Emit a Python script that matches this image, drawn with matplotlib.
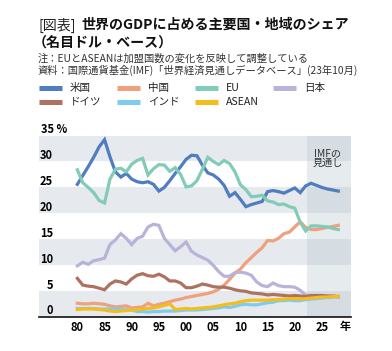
import numpy as np
import matplotlib
matplotlib.use("Agg")
import matplotlib.pyplot as plt
from matplotlib.lines import Line2D
from matplotlib.transforms import offset_copy

plt.rcParams['font.family'] = ['Noto Sans CJK JP', 'DejaVu Sans']

# Share of world nominal GDP (%), 1980-2028 (2023 onward: IMF outlook)
years = np.arange(1980, 2029)

us = [25.6, 27.3, 29.0, 30.8, 32.8, 34.2, 30.9, 28.0, 27.0, 27.7,
      26.6, 26.1, 25.9, 26.1, 25.6, 24.3, 25.0, 26.3, 27.7, 29.0,
      30.4, 31.2, 31.1, 29.3, 27.8, 27.4, 26.6, 25.4, 23.3, 24.0,
      22.7, 21.3, 21.7, 22.0, 22.3, 24.2, 24.4, 24.2, 23.9, 24.4,
      24.9, 24.0, 25.3, 25.8, 25.4, 25.0, 24.7, 24.5, 24.3]
china = [2.7, 2.6, 2.6, 2.7, 2.6, 2.5, 2.2, 2.0, 2.1, 2.2,
         1.8, 1.9, 2.0, 2.7, 2.2, 2.5, 2.7, 3.0, 3.3, 3.5,
         3.8, 4.0, 4.2, 4.4, 4.6, 4.9, 5.4, 6.2, 7.3, 8.5,
         9.3, 10.5, 11.5, 12.5, 13.4, 14.8, 14.7, 15.2, 16.1, 16.4,
         17.4, 18.4, 17.3, 16.9, 16.9, 17.1, 17.3, 17.5, 17.7]
eu = [28.4, 25.9, 25.0, 24.0, 22.5, 22.0, 26.6, 28.5, 28.7, 28.0,
      29.5, 30.2, 30.6, 27.4, 28.6, 29.4, 29.3, 28.1, 28.8, 27.5,
      25.1, 25.3, 26.3, 28.5, 30.8, 30.0, 29.4, 30.2, 29.6, 28.0,
      25.5, 24.6, 23.2, 23.3, 23.5, 22.4, 22.2, 21.7, 21.8, 21.3,
      21.0, 18.3, 16.6, 17.6, 17.6, 17.5, 17.4, 17.1, 16.9]
japan = [9.9, 10.6, 10.2, 10.9, 11.1, 11.4, 14.0, 14.9, 16.1, 15.2,
         14.0, 15.2, 15.6, 17.4, 17.9, 17.7, 15.2, 14.0, 12.8, 13.6,
         14.5, 12.7, 12.0, 11.5, 11.0, 10.0, 8.8, 7.9, 7.9, 8.6,
         8.7, 8.5, 8.1, 6.8, 6.1, 5.9, 6.6, 6.1, 5.9, 5.9,
         5.8, 5.2, 4.3, 4.1, 4.1, 4.1, 4.0, 4.0, 3.9]
germany = [7.5, 6.2, 6.0, 5.9, 5.6, 5.3, 6.4, 7.0, 6.8, 6.4,
           7.4, 8.1, 8.4, 8.0, 7.9, 8.3, 7.8, 7.0, 7.0, 6.6,
           5.7, 5.7, 6.0, 6.4, 6.2, 5.9, 5.8, 5.8, 5.6, 5.3,
           5.1, 5.0, 4.7, 4.6, 4.5, 4.3, 4.4, 4.3, 4.2, 4.1,
           4.2, 4.1, 4.0, 4.2, 4.2, 4.2, 4.1, 4.1, 4.0]
india = [1.7, 1.7, 1.7, 1.7, 1.6, 1.6, 1.6, 1.6, 1.6, 1.5,
         1.4, 1.1, 1.1, 1.0, 1.1, 1.1, 1.2, 1.2, 1.2, 1.3,
         1.4, 1.4, 1.4, 1.5, 1.6, 1.7, 1.8, 2.0, 1.9, 2.1,
         2.4, 2.5, 2.4, 2.4, 2.6, 2.8, 2.9, 3.2, 3.2, 3.3,
         3.2, 3.2, 3.4, 3.5, 3.6, 3.7, 3.8, 3.9, 4.0]
asean = [1.5, 1.6, 1.6, 1.6, 1.5, 1.4, 1.2, 1.1, 1.2, 1.3,
         1.4, 1.5, 1.6, 1.7, 1.8, 2.0, 2.3, 2.6, 1.5, 1.6,
         1.7, 1.6, 1.7, 1.8, 1.9, 2.0, 2.2, 2.4, 2.6, 2.7,
         3.0, 3.2, 3.3, 3.3, 3.3, 3.3, 3.4, 3.4, 3.5, 3.6,
         3.6, 3.5, 3.6, 3.7, 3.8, 3.9, 3.9, 4.0, 4.0]

names = ['米国', '中国', 'EU', '日本', 'ドイツ', 'インド', 'ASEAN']
series = [us, china, eu, japan, germany, india, asean]
colors = ['#4f7dbf', '#f0a07c', '#82cbb8', '#b9b2d9', '#ad7260', '#7fcbef', '#f3bd1c']

xticks = [1980, 1985, 1990, 1995, 2000, 2005, 2010, 2015, 2020, 2025]
xticklabels = ['80', '85', '90', '95', '00', '05', '10', '15', '20', '25']
yticks = [0, 5, 10, 15, 20, 25, 30]

W, H = 392, 351
fx = lambda px: px / W
fy = lambda py: 1 - py / H

fig = plt.figure(figsize=(W / 100, H / 100), dpi=100)
ax = fig.add_axes([fx(39.3), fy(317.3), fx(351) - fx(39.3), fy(135.5) - fy(317.3)])

# alternating bands
for k in range(0, 35, 10):
    ax.axhspan(k, k + 5, color='#e6e9ed', lw=0, zorder=0)
# forecast area
ax.axvspan(2022.2, 2031, color='#b8c6d0', alpha=0.35, lw=0, zorder=0.5)

for vals, c in zip(series, colors):
    ax.plot(years, vals, color=c, lw=2.3, solid_joinstyle='miter', zorder=2)

ax.set_xlim(1973.0, 2030.34)
ax.set_ylim(0, 35)
for s in ['top', 'left', 'right']:
    ax.spines[s].set_visible(False)
ax.spines['bottom'].set_linewidth(1.2)
ax.spines['bottom'].set_color('#111111')
ax.set_yticks([])
ax.set_xticks(xticks)
ax.set_xticklabels(xticklabels, fontsize=8, fontweight='bold')
ax.tick_params(axis='x', length=0, pad=3)

ytrans = offset_copy(ax.get_yaxis_transform(), fig=fig, y=6.3, units='dots')
for v in yticks:
    ax.text(0.044, v, str(v), ha='right', va='center', fontsize=8,
            fontweight='bold', transform=ytrans)
ax.text(0.0045, 35, '35 %', ha='left', va='center', fontsize=8,
        fontweight='bold', transform=ytrans)

ax.text(2029.2, -0.6, '年', ha='center', va='top', fontsize=8, fontweight='bold')
ax.text(2026.1, 30.6, 'IMFの\n見通し', ha='center', va='center', fontsize=7.3,
        color='#333333', linespacing=1.0)

# title and notes
fig.text(fx(39), fy(25), '[図表]', fontsize=10.1, va='center', color='#222222')
fig.text(fx(81), fy(25), '世界のGDPに占める主要国・地域のシェア', fontsize=10.1,
         fontweight='bold', va='center', color='#111111')
fig.text(fx(33), fy(43), '（名目ドル・ベース）', fontsize=10.1, fontweight='bold',
         va='center', color='#111111')
fig.text(fx(38), fy(59), '注：EUとASEANは加盟国数の変化を反映して調整している',
         fontsize=7.4, va='center', color='#333333')
fig.text(fx(38), fy(70), '資料：国際通貨基金(IMF)「世界経済見通しデータベース」(23年10月)',
         fontsize=7.4, va='center', color='#333333')

# legend
for i, (name, c) in enumerate(zip(names, colors)):
    row, col = divmod(i, 4)
    x0 = 39 + col * 78
    y0 = 88 + row * 13.7
    fig.add_artist(Line2D([fx(x0), fx(x0 + 23)], [fy(y0), fy(y0)], lw=3.6,
                          color=c, solid_capstyle='butt'))
    fig.text(fx(x0 + 31), fy(y0), name, fontsize=7.6, va='center', color='#222222')

fig.savefig('out.png', dpi=100)
